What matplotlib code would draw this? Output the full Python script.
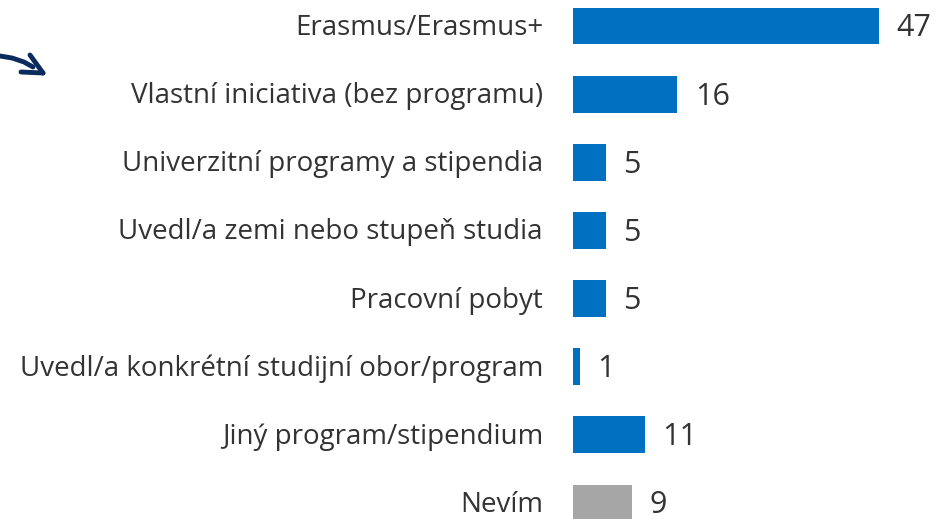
import matplotlib
matplotlib.use("Agg")
import matplotlib.pyplot as plt
from matplotlib.lines import Line2D

plt.rcParams['font.family'] = ['Open Sans', 'DejaVu Sans']

# data
categories = [
    "Erasmus/Erasmus+",
    "Vlastní iniciativa (bez programu)",
    "Univerzitní programy a stipendia",
    "Uvedl/a zemi nebo stupeň studia",
    "Pracovní pobyt",
    "Uvedl/a konkrétní studijní obor/program",
    "Jiný program/stipendium",
    "Nevím",
]
values = [47, 16, 5, 5, 5, 1, 11, 9]
colors = ["#0070C0"] * 7 + ["#A6A6A6"]

W, H = 935, 519
fig = plt.figure(figsize=(W / 100, H / 100), dpi=100)
ax = fig.add_axes([573 / W, 0, 1 - 573 / W, 1])

pos = list(range(len(categories)))
ax.barh(pos, values, height=0.54, color=colors)
ax.set_xlim(0, (W - 573) / 6.5)
ax.set_ylim(7.235, -0.382)
ax.axis('off')

for p, cat, v in zip(pos, categories, values):
    ax.text(-30 / 6.5, p + 0.03, cat, ha='right', va='center', fontsize=20,
            color='#333333')
    ax.text(v + 18 / 6.5, p + 0.035, str(v), ha='left', va='center',
            fontsize=22, color='#333333')

# decorative arrow in top-left corner
def px(xs, ys):
    return [x / W for x in xs], [1 - y / H for y in ys]

navy = "#0B2B5E"
for xs, ys in [([0, 12, 24, 33], [56, 58, 62, 67]),
               ([30, 43], [55, 73]),
               ([21, 43], [72, 73])]:
    fx, fy = px(xs, ys)
    fig.add_artist(Line2D(fx, fy, color=navy, lw=3.5, solid_capstyle='round',
                          transform=fig.transFigure))

fig.savefig("out.png", dpi=100)
